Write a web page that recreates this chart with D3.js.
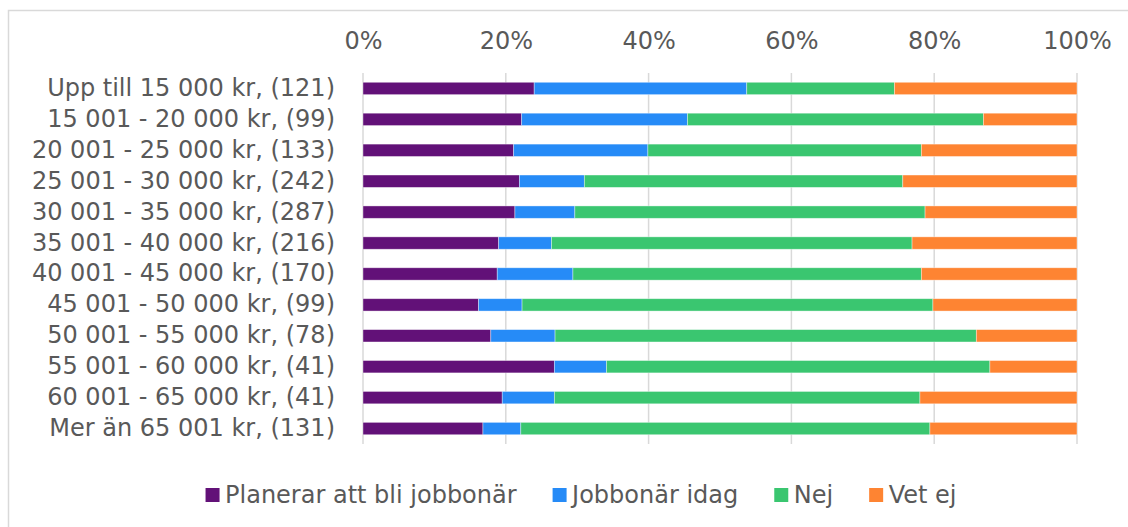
<!DOCTYPE html>
<html>
<head>
<meta charset="utf-8">
<script src="https://cdn.jsdelivr.net/npm/d3@7"></script>
<style>
  html, body { margin: 0; padding: 0; background: #fff; }
  svg { display: block; }
  text { font-family: Verdana, "DejaVu Sans", sans-serif; fill: #595959; }
</style>
</head>
<body>
<svg id="chart" width="1128" height="527"></svg>
<script>
const categories = [
  "Upp till 15 000 kr, (121)",
  "15 001 - 20 000 kr, (99)",
  "20 001 - 25 000 kr, (133)",
  "25 001 - 30 000 kr, (242)",
  "30 001 - 35 000 kr, (287)",
  "35 001 - 40 000 kr, (216)",
  "40 001 - 45 000 kr, (170)",
  "45 001 - 50 000 kr, (99)",
  "50 001 - 55 000 kr, (78)",
  "55 001 - 60 000 kr, (41)",
  "60 001 - 65 000 kr, (41)",
  "Mer än 65 001 kr, (131)"
];
const seriesNames = ["Planerar att bli jobbonär", "Jobbonär idag", "Nej", "Vet ej"];
const planerar = [24.0, 22.2, 21.1, 21.9, 21.3, 19.0, 18.8, 16.2, 17.9, 26.8, 19.5, 16.8];
const jobbonar = [29.8, 23.2, 18.8, 9.1, 8.4, 7.4, 10.6, 6.1, 9.0, 7.3, 7.3, 5.3];
const nej      = [20.7, 41.4, 38.3, 44.6, 49.1, 50.5, 48.8, 57.6, 59.0, 53.7, 51.2, 57.3];
const vetej    = [25.6, 13.1, 21.8, 24.4, 21.3, 23.1, 21.8, 20.2, 14.1, 12.2, 22.0, 20.6];
const tickValues = [0, 0.2, 0.4, 0.6, 0.8, 1.0];
const colors = ["#621178", "#268bf7", "#3ac670", "#fe8432"];

const svg = d3.select("#chart");

// frame
svg.append("rect").attr("x", 8.5).attr("y", 10.5).attr("width", 1160).attr("height", 540)
  .attr("fill", "#fff").attr("stroke", "#d9d9d9").attr("stroke-width", 1.5);

const rows = categories.map((c, i) => ({
  cat: c,
  [seriesNames[0]]: planerar[i],
  [seriesNames[1]]: jobbonar[i],
  [seriesNames[2]]: nej[i],
  [seriesNames[3]]: vetej[i]
}));

const stack = d3.stack().keys(seriesNames).offset(d3.stackOffsetExpand);
const stacked = stack(rows);

const x = d3.scaleLinear().domain([0, 1]).range([363, 1077]);
const y = d3.scaleBand().domain(categories).range([73, 444]).paddingInner(0.6).paddingOuter(0.3);

// gridlines
svg.append("g").selectAll("line").data(tickValues).join("line")
  .attr("x1", d => x(d)).attr("x2", d => x(d))
  .attr("y1", 73).attr("y2", 444)
  .attr("stroke", "#d9d9d9").attr("stroke-width", 1.5);

// top axis labels
const xAxis = svg.append("g").attr("transform", "translate(0,73)")
  .call(d3.axisTop(x).tickValues(tickValues).tickFormat(d3.format(".0%")).tickSize(0).tickPadding(24));
xAxis.select(".domain").remove();
xAxis.selectAll("text").attr("font-size", 24).attr("fill", "#595959")
  .style("font-family", "Verdana, 'DejaVu Sans', sans-serif");

// bars
svg.append("g").selectAll("g").data(stacked).join("g")
  .attr("fill", (d, i) => colors[i])
  .selectAll("rect").data(d => d).join("rect")
  .attr("x", d => x(d[0]))
  .attr("width", d => x(d[1]) - x(d[0]))
  .attr("y", d => y(d.data.cat))
  .attr("height", y.bandwidth())
  .attr("stroke", "#ffffff").attr("stroke-opacity", 0.5).attr("stroke-width", 0.75);

// category labels
svg.append("g").selectAll("text").data(categories).join("text")
  .attr("x", 335)
  .attr("y", d => y(d) + y.bandwidth() / 2 + 7.5)
  .attr("text-anchor", "end")
  .attr("font-size", 24)
  .text(d => d);

// legend
const legend = svg.append("g");
let cx = 0;
seriesNames.forEach((name, i) => {
  const g = legend.append("g").attr("transform", `translate(${cx},0)`);
  g.append("rect").attr("x", 0).attr("y", 488).attr("width", 14).attr("height", 14).attr("fill", colors[i]);
  const t = g.append("text").attr("x", 19.5).attr("y", 503).attr("font-size", 24).text(name);
  const w = t.node().getComputedTextLength();
  cx += 19.5 + w + 36;
});
const totalW = cx - 36;
legend.attr("transform", `translate(${581 - totalW / 2},0)`);
</script>
</body>
</html>
